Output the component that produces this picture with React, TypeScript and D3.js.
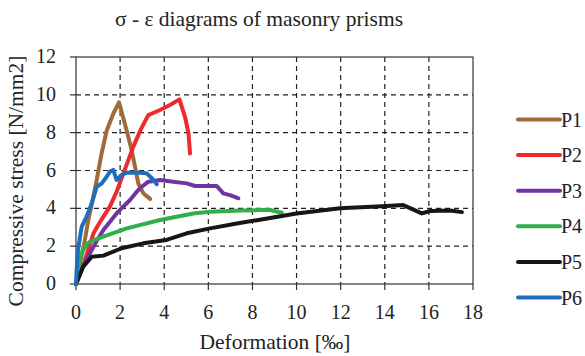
import React from "react";
import * as d3 from "d3";

const title = "σ - ε diagrams of masonry  prisms";
const xTitle = "Deformation  [‰]";
const yTitle = "Compressive  stress  [N/mm2]";
const xTicks = [0, 2, 4, 6, 8, 10, 12, 14, 16, 18];
const yTicks = [0, 2, 4, 6, 8, 10, 12];
const seriesNames = ["P1", "P2", "P3", "P4", "P5", "P6"];
const seriesColors = ["#A06B3A", "#EE2A2E", "#7233A2", "#2FAF4E", "#161616", "#1F6EBE"];

const p1: [number, number][] = [[0,0],[0.2,1.2],[0.4,2.3],[0.56,3.4],[0.75,4.4],[0.94,5.5],[1.16,6.9],[1.39,8.1],[1.69,9.0],[1.95,9.6],[2.3,8.1],[2.52,7.1],[2.83,5.3],[3.05,4.8],[3.36,4.5]];
const p2: [number, number][] = [[0,0],[0.3,0.9],[0.5,1.6],[0.8,2.7],[1.1,3.3],[1.54,4.1],[1.85,4.9],[2.15,5.85],[2.6,7.26],[2.95,8.2],[3.28,8.93],[3.81,9.2],[4.26,9.46],[4.69,9.76],[4.95,8.8],[5.1,7.97],[5.17,6.9]];
const p3: [number, number][] = [[0,0],[0.3,0.9],[0.63,1.62],[0.95,2.3],[1.24,2.85],[1.55,3.3],[1.84,3.73],[2.15,4.1],[2.45,4.44],[2.7,4.8],[2.9,5.06],[3.28,5.41],[3.81,5.5],[4.41,5.41],[5.02,5.32],[5.4,5.18],[6.38,5.18],[6.68,4.79],[6.98,4.7],[7.2,4.6],[7.36,4.53]];
const p4: [number, number][] = [[0,0],[0.12,1.0],[0.26,1.62],[0.41,1.97],[0.63,2.24],[1.24,2.5],[2.3,2.94],[3.81,3.38],[5.32,3.73],[6.05,3.82],[7.5,3.88],[8.34,3.91],[8.8,3.91],[9.33,3.77]];
const p5: [number, number][] = [[0,0],[0.33,0.92],[0.71,1.44],[1.24,1.5],[2.07,1.89],[3.05,2.15],[4.1,2.33],[5.02,2.68],[6.08,2.94],[7.29,3.2],[8.34,3.4],[10.0,3.73],[11.97,4.0],[14.09,4.12],[14.84,4.17],[15.68,3.73],[16.05,3.86],[16.96,3.88],[17.5,3.8]];
const p6: [number, number][] = [[0,0],[0.05,1.2],[0.11,1.97],[0.26,3.03],[0.48,3.56],[0.71,4.26],[0.94,5.14],[1.17,5.32],[1.39,5.67],[1.54,5.94],[1.69,6.03],[1.84,5.5],[2.07,5.76],[2.3,5.9],[2.9,5.88],[3.2,5.85],[3.43,5.6],[3.66,5.28]];
const seriesData = [p1, p2, p3, p4, p5, p6];

const W = 585, H = 356;
const L = 76, R = 473, T = 57, B = 284;
const FONT = "Liberation Serif, DejaVu Serif, Times New Roman, serif";
const txt = { fontFamily: FONT, fill: "#222" } as React.CSSProperties;

export default function App() {
  const x = d3.scaleLinear().domain([0, 18]).range([L, R]);
  const y = d3.scaleLinear().domain([0, 12]).range([B, T]);
  const line = d3.line<[number, number]>().x(d => x(d[0])).y(d => y(d[1]));
  const legendY = d3.scaleLinear().domain([0, 5]).range([119.5, 297.5]);

  return (
    <svg width={W} height={H} style={{ position: "absolute", left: 0, top: 0, background: "#fff" }}>
      <rect x={0} y={0} width={W} height={H} fill="#fff" />
      <text x={259} y={26} textAnchor="middle" fontSize={21.5} style={txt}>{title}</text>
      {/* grid */}
      {xTicks.slice(1, -1).map(t => (
        <line key={"gx" + t} x1={x(t)} x2={x(t)} y1={T} y2={B} stroke="#222" strokeWidth={1.2} strokeDasharray="5,4" />
      ))}
      {yTicks.slice(1, -1).map(t => (
        <line key={"gy" + t} x1={L} x2={R} y1={y(t)} y2={y(t)} stroke="#222" strokeWidth={1.2} strokeDasharray="5,4" />
      ))}
      <rect x={L} y={T} width={R - L} height={B - T} fill="none" stroke="#333" strokeWidth={1.2} />
      {/* ticks */}
      {xTicks.map(t => (
        <g key={"xt" + t}>
          <line x1={x(t)} x2={x(t)} y1={B} y2={B + 6} stroke="#333" strokeWidth={1.2} />
          <text x={x(t)} y={312} dy="0.35em" textAnchor="middle" fontSize={20} style={txt}>{t}</text>
        </g>
      ))}
      {yTicks.map(t => (
        <g key={"yt" + t}>
          <line x1={L - 6} x2={L} y1={y(t)} y2={y(t)} stroke="#333" strokeWidth={1.2} />
          <text x={56} y={y(t)} dy="0.3em" textAnchor="end" fontSize={20} style={txt}>{t}</text>
        </g>
      ))}
      <text x={275} y={349} textAnchor="middle" fontSize={21.5} style={txt}>{xTitle}</text>
      <text transform={`translate(23,181) rotate(-90)`} textAnchor="middle" fontSize={21.5} style={txt}>{yTitle}</text>
      {/* series */}
      {seriesData.map((d, i) => (
        <path key={"s" + i} d={line(d) || ""} fill="none" stroke={seriesColors[i]} strokeWidth={4} strokeLinejoin="round" strokeLinecap="round" />
      ))}
      {/* legend */}
      {seriesNames.map((n, i) => (
        <g key={"lg" + n}>
          <line x1={518} x2={560} y1={legendY(i)} y2={legendY(i)} stroke={seriesColors[i]} strokeWidth={4} strokeLinecap="round" />
          <text x={561} y={legendY(i)} dy="0.35em" fontSize={20} style={txt}>{n}</text>
        </g>
      ))}
    </svg>
  );
}
